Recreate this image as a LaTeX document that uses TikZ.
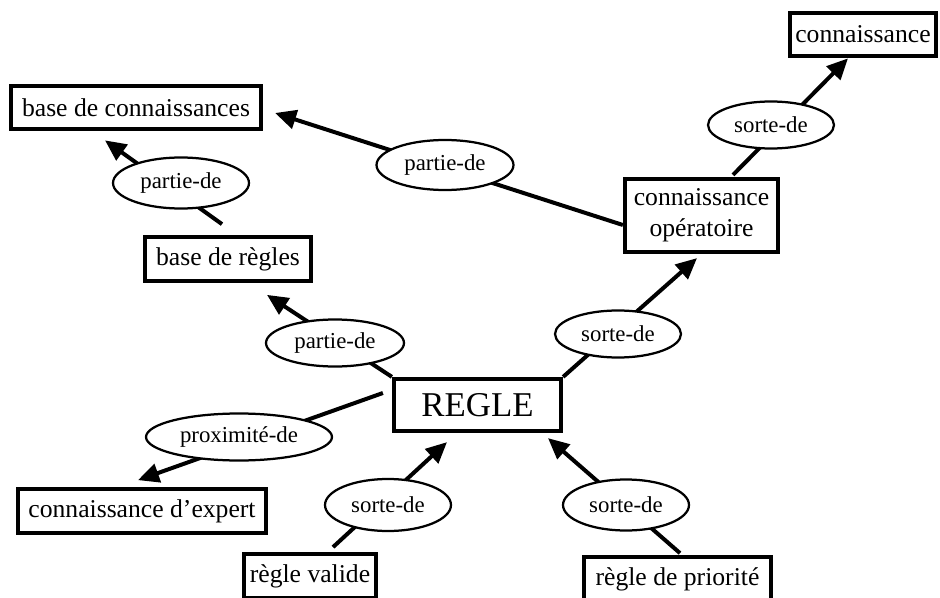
\documentclass[tikz,border=0pt]{standalone}
\usepackage{fontspec}
\setmainfont{Liberation Serif}
\usetikzlibrary{arrows.meta,shapes.geometric}

\begin{document}
\begin{tikzpicture}[x=0.02cm,y=-0.02cm,box/.style={draw=black,line width=0.085cm,fill=white,inner sep=0pt,align=center,font=\fontsize{14.6}{17.5}\selectfont,minimum height=0.87cm},rel/.style={draw=black,ellipse,line width=0.045cm,fill=white,inner sep=1pt,font=\fontsize{13}{14}\selectfont,minimum width=2.52cm,minimum height=0.94cm},arr/.style={-{Triangle[length=0.42cm,width=0.38cm]},draw=black,line width=0.08cm}]
\path[use as bounding box,clip] (0,0) rectangle (940,598);
\node[box,minimum width=2.92cm] (conn) at (863,34.5) {connaissance};
\node[box,minimum width=5cm] (bconn) at (136,107.5) {base de connaissances};
\node[box,minimum width=3.32cm] (brules) at (228,259) {base de règles};
\node[box,minimum width=3.06cm,minimum height=1.46cm] (opera) at (701.5,215.5) {connaissance\\opératoire};
\node[box,minimum width=3.34cm,minimum height=1.04cm,font=\fontsize{19.8}{23}\selectfont] (regle) at (477.5,405) {REGLE};
\node[box,minimum width=4.96cm] (cexp) at (142,511) {connaissance d’expert};
\node[box,minimum width=2.64cm] (rvalide) at (310,576) {règle valide};
\node[box,minimum width=3.74cm] (rprio) at (677.5,579) {règle de priorité};
\draw[arr]([shift={(31.5,-2)}]opera.north)--([shift={(-15,0)}]conn.south);
\draw[arr]([shift={(0,9.5)}]opera.west)--([shift={(12,5.5)}]bconn.east);
\draw[arr](regle.north east)--([shift={(-4.5,4)}]opera.south);
\draw[arr](regle.north west)--([shift={(39,12)}]brules.south);
\draw[arr]([shift={(-6,-11)}]brules.north)--([shift={(-31,9)}]bconn.south);
\draw[arr]([shift={(-9,-12)}]regle.west)--([shift={(-4,-7)}]cexp.north);
\draw[arr]([shift={(23,-5)}]rvalide.north)--([shift={(-30.5,9)}]regle.south);
\draw[arr]([shift={(2.5,-2)}]rprio.north)--([shift={(70.5,5)}]regle.south);
\node[rel] (sorte1) at (771,125) {sorte-de};
\node[rel,minimum width=2.74cm,minimum height=1cm] (partie1) at (445,165) {partie-de};
\node[rel] (sorte2) at (618,334) {sorte-de};
\node[rel,minimum width=2.76cm] (partie2) at (335,343) {partie-de};
\node[rel,minimum width=2.72cm,minimum height=1.02cm] (partie3) at (181,183) {partie-de};
\node[rel,minimum width=3.72cm] (proxi) at (239,437) {proximité-de};
\node[rel,minimum height=1.04cm] (sorte3) at (388,505) {sorte-de};
\node[rel,minimum height=1.02cm] (sorte4) at (626,505) {sorte-de};
\end{tikzpicture}
\end{document}
